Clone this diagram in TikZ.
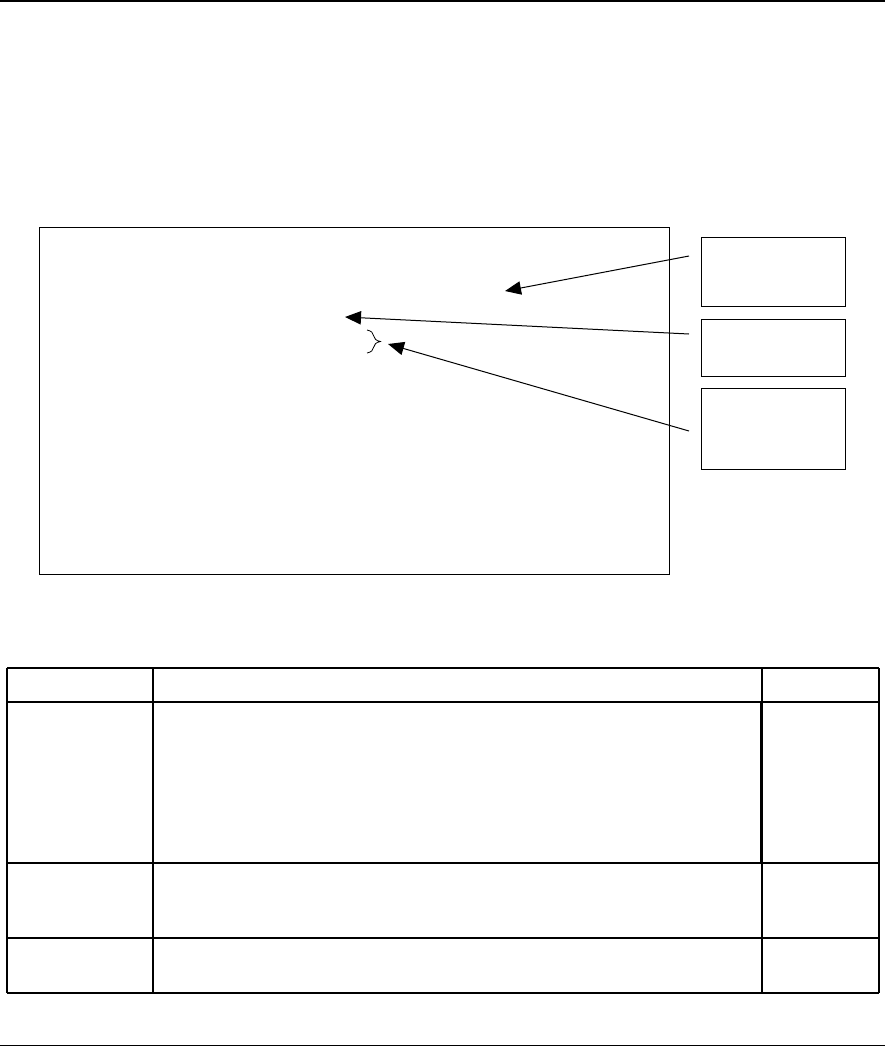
\documentclass[tikz,border=0pt]{standalone}
\usepackage{tikz}
\usetikzlibrary{arrows.meta,decorations.pathreplacing,positioning}

\begin{document}
\begin{tikzpicture}[x=0.75pt,y=-0.75pt,
    callout/.style={draw=black,line width=0.75pt,minimum width=108pt,inner sep=0pt},
    pointer/.style={line width=0.75pt,-{Triangle[length=12pt,width=10pt]}},
    rule/.style={line width=1.1pt}]
    \def\w{885}
    \def\h{1047}
    \useasboundingbox (0,0) rectangle (\w,\h);
    % page rules
    \draw[rule] (0,1) -- (\w,1);
    \draw[rule] (0,1045.5) -- (\w,1045.5);
    % Draw the screen
    \node[draw=black,line width=0.75pt,minimum width=472.5pt,minimum height=260.25pt,inner sep=0pt] (screen) at (354,400.5) {};
    % Draw the callouts
    \node[callout,minimum height=51.75pt] (c1) at (773,271.8) {};
    \node[callout,minimum height=42.75pt,below=9pt of c1] (c2) {};
    \node[callout,minimum height=60.75pt,below=8.5pt of c2] (c3) {};
    % pointers
    \coordinate (s1) at (689,256);
    \coordinate (s2) at (689,334);
    \coordinate (s3) at (689,431);
    \coordinate (t1) at (505,291);
    \coordinate (t2) at (345,317);
    \coordinate (t3) at (388,344);
    \draw[pointer] (s1) -- (t1);
    \draw[pointer] (s2) -- (t2);
    \draw[pointer] (s3) -- (t3);
    % brace
    \coordinate (b1) at (367,330);
    \coordinate (b2) at (367,353);
    \draw[line width=0.6pt,decorate,decoration={brace,amplitude=10pt}] (b1) -- (b2);
    % table
    \foreach \y in {668,702,863,938,993}
        \draw[line width=1pt] (7,\y) -- (879,\y);
    \foreach \x in {7,153,762,879}
        \draw[line width=1pt] (\x,668) -- (\x,993);
    \draw[line width=1pt] (760.5,702) -- (760.5,863);
\end{tikzpicture}
\end{document}
